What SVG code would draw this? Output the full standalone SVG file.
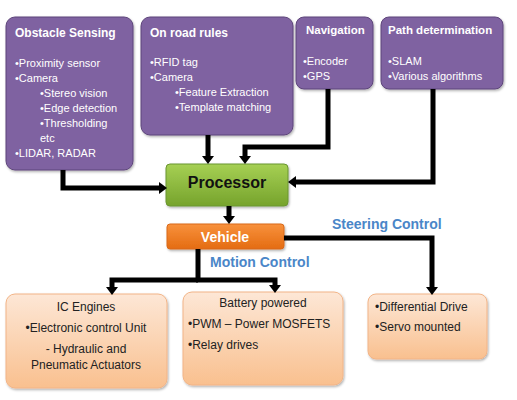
<svg xmlns="http://www.w3.org/2000/svg" width="517" height="400" viewBox="0 0 517 400">
<defs>
<linearGradient id="gGreen" x1="0" y1="0" x2="0" y2="1"><stop offset="0" stop-color="#a6d054"/><stop offset="1" stop-color="#76a32c"/></linearGradient>
<linearGradient id="gOrange" x1="0" y1="0" x2="0" y2="1"><stop offset="0" stop-color="#f8913c"/><stop offset="1" stop-color="#e46c12"/></linearGradient>
<linearGradient id="gPeach" x1="0" y1="0" x2="0" y2="1"><stop offset="0" stop-color="#fde7d6"/><stop offset="1" stop-color="#f9c08f"/></linearGradient>
<filter id="sh" x="-10%" y="-10%" width="130%" height="130%"><feDropShadow dx="1" dy="1.5" stdDeviation="1.2" flood-color="#000" flood-opacity="0.3"/></filter>
<marker id="ah" markerUnits="userSpaceOnUse" markerWidth="14" markerHeight="14" refX="0" refY="6" orient="auto"><path d="M0,0 L8,6 L0,12 z" fill="#000"/></marker>
<style>
.pur{fill:#7f62a1;stroke:#5d457a;stroke-width:1;filter:url(#sh)}
.peach{fill:url(#gPeach);stroke:#f2b487;stroke-width:1;filter:url(#sh)}
.t{font-family:"Liberation Sans",Arial,sans-serif}
.wt{fill:#fff;font-size:12px;font-weight:bold}
.wi{fill:#fff;font-size:11px}
.bk{fill:#222;font-size:12px}
.blue{fill:#4a86c8;font-size:14px;font-weight:bold}
.c{fill:none;stroke:#000;stroke-width:5;marker-end:url(#ah)}
</style>
</defs>
<rect width="517" height="400" fill="#fff"/>

<g id="obstacle">
<rect class="pur" x="6" y="17" width="127" height="153" rx="9"/>
<text class="t wt" x="15" y="37">Obstacle Sensing</text>
<text class="t wi" x="15" y="67">•Proximity sensor</text>
<text class="t wi" x="15" y="82">•Camera</text>
<text class="t wi" x="40" y="97">•Stereo vision</text>
<text class="t wi" x="40" y="112">•Edge detection</text>
<text class="t wi" x="40" y="127">•Thresholding</text>
<text class="t wi" x="40" y="142">etc</text>
<text class="t wi" x="15" y="157">•LIDAR, RADAR</text>
</g>

<g id="roadrules">
<rect class="pur" x="141" y="17" width="152" height="118" rx="9"/>
<text class="t wt" x="150" y="37">On road rules</text>
<text class="t wi" x="150" y="66">•RFID tag</text>
<text class="t wi" x="150" y="81">•Camera</text>
<text class="t wi" x="175" y="96">•Feature Extraction</text>
<text class="t wi" x="175" y="111">•Template matching</text>
</g>

<g id="navigation">
<rect class="pur" x="296" y="17" width="77" height="72" rx="8"/>
<text class="t wt" x="306" y="34" style="font-size:11.5px">Navigation</text>
<text class="t wi" x="303" y="65">•Encoder</text>
<text class="t wi" x="303" y="80">•GPS</text>
</g>

<g id="path">
<rect class="pur" x="381" y="17" width="122" height="72" rx="8"/>
<text class="t wt" x="388" y="34" style="font-size:11.5px">Path determination</text>
<text class="t wi" x="388" y="65">•SLAM</text>
<text class="t wi" x="388" y="80">•Various algorithms</text>
</g>

<g id="processor">
<rect x="166" y="164" width="122" height="42" rx="4" fill="url(#gGreen)" stroke="#6b9630" stroke-width="1" filter="url(#sh)"/>
<text class="t" x="227" y="188" text-anchor="middle" style="font-size:16px;font-weight:bold;fill:#111">Processor</text>
</g>

<g id="vehicle">
<rect x="167" y="224" width="117" height="25" rx="3" fill="url(#gOrange)" stroke="#d9691a" stroke-width="1" filter="url(#sh)"/>
<text class="t" x="225" y="242" text-anchor="middle" style="font-size:14px;font-weight:bold;fill:#fff">Vehicle</text>
</g>

<g id="icengines">
<rect class="peach" x="6" y="294" width="161" height="94" rx="9"/>
<text class="t bk" x="86" y="311" text-anchor="middle">IC Engines</text>
<text class="t bk" x="86" y="332" text-anchor="middle">•Electronic control Unit</text>
<text class="t bk" x="86" y="353" text-anchor="middle">- Hydraulic and</text>
<text class="t bk" x="86" y="369" text-anchor="middle">Pneumatic Actuators</text>
</g>

<g id="battery">
<rect class="peach" x="183" y="292" width="160" height="93" rx="9"/>
<text class="t bk" x="263" y="307" text-anchor="middle">Battery powered</text>
<text class="t bk" x="188" y="328">•PWM – Power MOSFETS</text>
<text class="t bk" x="188" y="349">•Relay drives</text>
</g>

<g id="steering">
<rect class="peach" x="368" y="294" width="119" height="65" rx="8"/>
<text class="t bk" x="375" y="311">•Differential Drive</text>
<text class="t bk" x="375" y="331">•Servo mounted</text>
</g>

<g id="labels">
<text class="t blue" x="332" y="229">Steering Control</text>
<text class="t blue" x="210" y="267">Motion Control</text>
</g>

<g id="connectors">
<polyline class="c" points="63,170 63,188 159,188"/>
<polyline class="c" points="208,135 208,156"/>
<polyline class="c" points="328,89 328,147 245,147 245,156"/>
<polyline class="c" points="433,89 433,182 296,182"/>
<polyline class="c" points="229,206 229,216"/>
<polyline class="c" style="marker-end:none" points="198,249 198,280"/>
<polyline class="c" points="198,280 112,280 112,287"/>
<polyline class="c" points="196,280 275,280 275,285"/>
<polyline class="c" points="284,238 432,238 432,287"/>
</g>
</svg>
